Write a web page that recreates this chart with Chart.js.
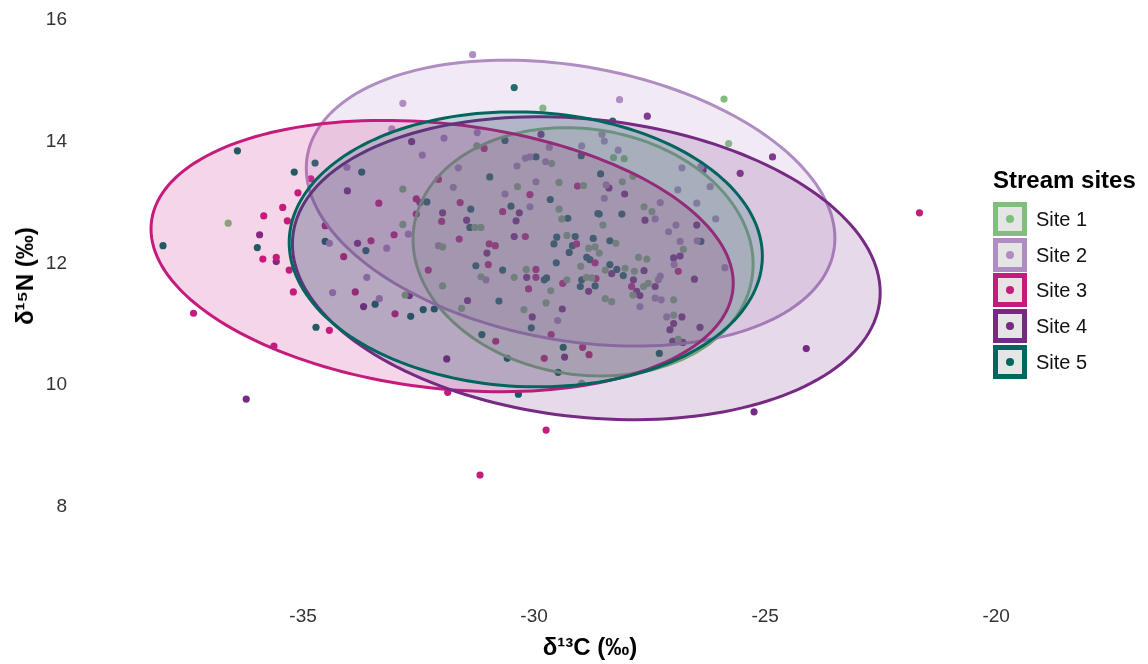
<!DOCTYPE html>
<html>
<head>
<meta charset="utf-8">
<script src="https://cdn.jsdelivr.net/npm/chart.js@4/dist/chart.umd.min.js"></script>
<style>
body { margin: 0; background: #fff; font-family: "Liberation Sans", Arial, sans-serif; }
#wrap { position: relative; width: 1148px; height: 664px; }
#ytitle { position: absolute; left: 25px; top: 276px; transform: translate(-50%, -50%) rotate(-90deg);
  font-weight: bold; font-size: 24px; white-space: nowrap; color: #000; }
#legend { position: absolute; left: 993px; top: 0; }
.ltitle { position: absolute; left: 0; top: 167px; font-weight: bold; font-size: 24px; white-space: nowrap; line-height: 26px; }
.lkey { position: absolute; left: 0; width: 34px; height: 34px; box-sizing: border-box; border: 5px solid; background: #e5e5e5; }
.ldot { position: absolute; left: 8px; top: 8px; width: 8px; height: 8px; border-radius: 50%; }
.llab { position: absolute; left: 43px; font-size: 20px; white-space: nowrap; line-height: 34px; color: #111; }
</style>
</head>
<body>
<div id="wrap">
  <canvas id="chart" width="1148" height="664"></canvas>
  <div id="ytitle">δ¹⁵N (‰)</div>
  <div id="legend"></div>
</div>
<script>
// sites
const siteNames = ['Site 1', 'Site 2', 'Site 3', 'Site 4', 'Site 5'];
const siteColors = ['#7fbf7b', '#af8dc3', '#c51b7d', '#762a83', '#01665e'];

// d13C / d15N per site
const site1C = [-36.62,-32.84,-32.84,-32.79,-29.81,-31.24,-29.62,-30.36,-29.46,-28.93,-29.46,-29.40,-31.28,-31.15,-25.89,-25.79,-28.28,-28.05,-28.09,-27.86,-27.62,-27.45,-28.51,-29.29,-31.98,-28.82,-28.68,-28.99,-30.17,-31.15,-30.43,-29.29,-28.87,-28.75,-31.98,-29.64,-29.74,-31.57,-30.22,-28.97,-28.23,-28.59,-28.46,-28.03,-27.83,-27.74,-27.56,-27.53,-27.63,-27.86,-28.46,-28.32,-26.98,-26.98,-26.88,-26.77];
const site1N = [12.66,13.22,12.64,11.48,14.55,13.93,13.64,13.26,13.33,13.28,12.89,12.73,12.59,12.59,14.70,13.97,13.74,13.72,13.34,13.43,12.93,12.85,12.63,12.46,12.27,12.25,12.27,11.95,11.90,11.78,11.77,11.73,11.77,11.76,11.63,11.55,11.35,11.26,11.24,10.03,12.33,12.17,11.89,11.92,11.87,12.10,12.07,11.67,11.62,11.48,11.42,11.37,11.40,11.15,10.75,12.23];

const site2C = [-33.08,-34.05,-32.72,-34.43,-33.19,-33.62,-34.36,-33.35,-31.33,-32.84,-31.95,-31.23,-32.42,-29.67,-28.97,-30.19,-30.09,-29.75,-30.37,-31.64,-31.75,-29.96,-30.63,-30.09,-28.15,-28.53,-28.48,-28.18,-26.80,-26.39,-28.44,-28.48,-26.89,-26.19,-27.27,-26.48,-27.38,-26.07,-26.93,-32.07,-31.04,-29.49,-27.09,-26.84,-26.47,-26.97,-25.87,-27.27,-27.31,-27.38,-27.25,-27.71,-27.13];
const site2N = [14.21,13.58,12.48,12.33,12.25,11.77,11.52,11.42,15.43,14.63,14.06,14.15,13.78,13.91,13.93,13.73,13.75,13.67,13.60,13.57,13.25,13.34,13.14,12.93,14.69,14.12,14.01,13.86,13.57,13.59,13.29,13.07,13.21,13.26,13.00,12.99,12.73,12.73,12.63,12.29,11.73,11.06,12.52,12.36,12.37,11.98,11.93,11.79,11.73,11.43,11.40,11.29,11.12];

const site3C = [-34.83,-35.11,-35.44,-35.85,-35.34,-35.87,-35.58,-35.30,-35.21,-37.37,-34.43,-35.63,-33.36,-32.55,-32.55,-34.52,-33.03,-33.53,-34.12,-33.87,-33.01,-31.08,-32.07,-29.06,-30.09,-31.60,-30.68,-32.00,-30.19,-31.62,-30.97,-30.84,-29.08,-32.29,-30.99,-28.68,-29.96,-29.96,-29.38,-28.66,-30.12,-30.83,-29.63,-28.95,-29.78,-28.81,-31.87,-26.88,-27.89,-21.66,-29.74,-31.17];
const site3N = [13.39,13.16,12.92,12.78,12.70,12.07,12.10,11.89,11.53,11.18,10.90,10.64,12.99,13.06,12.81,12.62,12.47,12.37,12.11,11.53,11.17,13.89,13.38,13.27,13.13,13.00,12.85,12.69,12.44,12.40,12.32,12.29,12.32,11.89,11.98,12.01,11.90,11.77,11.67,11.75,11.58,10.72,10.83,10.62,10.44,10.50,9.88,11.87,11.62,12.83,9.26,8.52];

const site4C = [-35.94,-35.58,-32.65,-34.04,-33.82,-33.69,-32.70,-29.85,-32.47,-31.98,-30.32,-31.46,-30.39,-27.55,-24.84,-25.54,-26.34,-28.38,-28.04,-27.60,-26.48,-30.43,-31.02,-30.16,-28.82,-31.44,-29.39,-30.04,-31.89,-29.34,-26.98,-26.84,-28.32,-27.62,-26.53,-27.85,-27.38,-27.78,-27.71,-26.80,-26.98,-27.06,-26.41,-27.00,-26.78,-36.23,-24.11,-25.24];
const site4N = [12.47,12.03,14.00,13.19,12.33,11.29,11.47,14.12,13.00,12.83,12.83,12.71,12.70,14.42,13.75,13.48,13.54,13.24,13.14,12.71,12.63,12.44,12.17,11.77,11.54,11.39,11.25,11.12,10.43,10.46,12.09,12.12,11.83,11.88,11.74,11.73,11.62,11.54,11.47,11.12,11.01,10.91,10.95,10.72,10.70,9.77,10.60,9.56];

const site5C = [-36.42,-34.74,-35.19,-38.03,-35.99,-34.72,-33.73,-34.52,-33.64,-33.44,-32.67,-30.43,-30.63,-28.98,-29.96,-30.96,-29.65,-32.32,-30.50,-31.37,-29.27,-28.62,-31.39,-28.30,-28.56,-28.59,-28.10,-29.51,-29.57,-29.11,-28.72,-29.17,-29.24,-31.26,-30.68,-29.52,-28.86,-28.79,-29.78,-29.73,-28.97,-29.00,-28.68,-30.76,-32.40,-32.16,-30.06,-31.13,-29.37,-30.58,-29.48,-30.34,-28.36,-28.36,-28.21,-28.07,-26.39,-27.29];
const site5N = [13.85,13.65,13.50,12.29,12.26,10.95,13.50,12.36,12.21,11.33,11.13,14.89,14.02,13.77,13.75,13.42,13.05,13.01,12.94,12.89,12.74,12.82,12.59,14.34,13.47,12.81,12.81,12.43,12.32,12.44,12.41,12.29,12.18,11.96,11.89,12.01,12.10,12.06,11.73,11.76,11.73,11.62,11.63,11.38,11.24,11.25,10.94,10.83,10.62,10.44,10.21,9.85,12.37,11.98,11.90,11.80,12.36,10.52];

// ellipse per site: centre, spread in C and N, correlation
const ellCx  = [-28.94, -29.21, -31.99, -28.87, -30.18];
const ellCy  = [12.19, 12.99, 12.12, 11.92, 12.23];
const ellSx  = [3.68, 5.72, 6.30, 6.36, 5.12];
const ellSy  = [2.04, 2.35, 2.23, 2.49, 2.26];
const ellRho = [-0.10, -0.245, -0.20, -0.16, -0.05];

const xTicks = [-35, -30, -25, -20];
const yTicks = [8, 10, 12, 14, 16];

const cVals = [site1C, site2C, site3C, site4C, site5C];
const nVals = [site1N, site2N, site3N, site4N, site5N];

function rgba(hex, a) {
    const r = parseInt(hex.slice(1, 3), 16), g = parseInt(hex.slice(3, 5), 16), b = parseInt(hex.slice(5, 7), 16);
    return `rgba(${r},${g},${b},${a})`;
}

const ellipsePlugin = {
    id: 'ellipses',
    afterDatasetsDraw(chart) {
        const ctx = chart.ctx;
        const xs = chart.scales.x, ys = chart.scales.y;
        ctx.save();
        for (let i = 0; i < siteNames.length; i++) {
            const s = Math.sqrt(1 - ellRho[i] * ellRho[i]);
            ctx.beginPath();
            for (let k = 0; k <= 180; k++) {
                const t = k / 180 * Math.PI * 2;
                const ex = ellCx[i] + ellSx[i] * Math.cos(t);
                const ey = ellCy[i] + ellSy[i] * (ellRho[i] * Math.cos(t) + s * Math.sin(t));
                const px = xs.getPixelForValue(ex), py = ys.getPixelForValue(ey);
                if (k == 0) ctx.moveTo(px, py); else ctx.lineTo(px, py);
            }
            ctx.closePath();
            ctx.fillStyle = rgba(siteColors[i], 0.18);
            ctx.fill();
            ctx.lineWidth = 3;
            ctx.strokeStyle = siteColors[i];
            ctx.stroke();
        }
        ctx.restore();
    }
};

const datasets = siteNames.map((name, i) => ({
    label: name,
    data: cVals[i].map((c, j) => ({ x: c, y: nVals[i][j] })),
    backgroundColor: siteColors[i],
    pointRadius: 3.6,
    pointBorderWidth: 0,
    pointHoverRadius: 3.6
}));

const tickFont = { family: '"Liberation Sans", Arial, sans-serif', size: 19 };

new Chart(document.getElementById('chart'), {
    type: 'scatter',
    data: { datasets: datasets },
    options: {
        responsive: false,
        animation: false,
        devicePixelRatio: 1,
        layout: { padding: { left: 0, top: 20, right: 40, bottom: 0 } },
        plugins: { legend: { display: false }, tooltip: { enabled: false } },
        scales: {
            x: {
                type: 'linear', min: -40, max: -17.58,
                grid: { display: false, drawTicks: false },
                border: { display: false },
                afterBuildTicks: s => { s.ticks = xTicks.map(v => ({ value: v })); },
                afterFit: s => { s.height = 66; },
                ticks: { font: tickFont, color: '#333', padding: 7 },
                title: {
                    display: true, text: 'δ¹³C (‰)', color: '#000',
                    font: { family: '"Liberation Sans", Arial, sans-serif', size: 24, weight: 'bold', lineHeight: 1.1 },
                    padding: { top: 0, bottom: 2 }
                }
            },
            y: {
                type: 'linear', min: 6.5, max: 16,
                grid: { display: false, drawTicks: false },
                border: { display: false },
                afterBuildTicks: s => { s.ticks = yTicks.map(v => ({ value: v })); },
                afterFit: s => { s.width = 72; },
                ticks: { font: tickFont, color: '#333', padding: 5 }
            }
        }
    },
    plugins: [ellipsePlugin]
});

// legend
legend = document.getElementById('legend');
legend.innerHTML = '<div class="ltitle">Stream sites</div>';
siteNames.forEach((name, i) => {
    top_ = 202 + i * 35.7;
    legend.innerHTML += `<div class="lkey" style="top:${top_}px;border-color:${siteColors[i]}"><div class="ldot" style="background:${siteColors[i]}"></div></div>`
        + `<div class="llab" style="top:${top_}px">${name}</div>`;
});
</script>
</body>
</html>
